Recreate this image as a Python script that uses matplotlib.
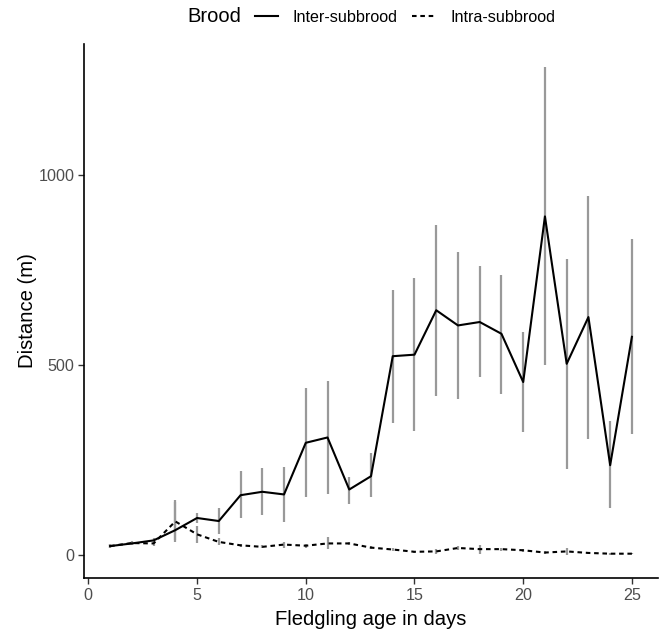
import matplotlib
matplotlib.use('Agg')
import matplotlib.pyplot as plt
from matplotlib.lines import Line2D

plt.rcParams['font.family'] = ['Liberation Sans', 'DejaVu Sans']

days = list(range(1, 26))

# inter-subbrood mean distance and error bar limits (m)
inter_mean = [24, 31, 39, 66, 98, 90, 158, 167, 160, 296, 310, 173, 208,
              524, 528, 645, 605, 614, 583, 456, 892, 504, 627, 237, 575]
inter_low = [18, 27, 33, 35, 84, 57, 97, 105, 88, 153, 162, 136, 152,
             348, 326, 418, 412, 468, 425, 324, 502, 228, 307, 125, 320]
inter_high = [30, 36, 45, 146, 111, 123, 221, 230, 231, 439, 458, 206, 269,
              697, 731, 870, 798, 761, 737, 589, 1285, 779, 945, 353, 833]

# intra-subbrood
intra_mean = [24, 32, 31, 89, 55, 35, 26, 22, 28, 25, 31, 31, 20,
              15, 9, 10, 19, 16, 16, 13, 7, 10, 6, 4, 4]
intra_low = [18, 27, 24, 40, 32, 26, 22, 18, 20, 20, 16, 27, 16,
             12, 6, 4, 14, 4, 12, 9, 4, 1, 3, 1, 2]
intra_high = [30, 37, 38, 140, 77, 45, 30, 26, 36, 30, 47, 35, 24,
              18, 12, 16, 24, 26, 20, 17, 10, 18, 9, 7, 6]

x_ticks = [0, 5, 10, 15, 20, 25]
y_ticks = [0, 500, 1000]

W, H = 665, 636
fig = plt.figure(figsize=(W / 100, H / 100), dpi=100)
ax = fig.add_axes([84 / W, 1 - 578 / H, (658 - 84) / W, (578 - 44) / H])

bar_col = '#999999'
ax.vlines(days, inter_low, inter_high, color=bar_col, lw=1.6, zorder=2)
ax.vlines(days, intra_low, intra_high, color=bar_col, lw=1.6, zorder=2)
ax.plot(days, inter_mean, color='black', lw=1.5, zorder=3)
ax.plot(days, intra_mean, color='black', lw=1.5, ls=(0, (2.2, 1.8)), zorder=3)

ax.set_xlim(-0.2, 26.2)
ax.set_ylim(-60, 1346)
ax.set_xticks(x_ticks)
ax.set_yticks(y_ticks)
for s in ['top', 'right']:
    ax.spines[s].set_visible(False)
for s in ['left', 'bottom']:
    ax.spines[s].set_linewidth(1.2)
ax.tick_params(axis='both', length=4, width=1.0, color='#333333',
               labelsize=11.6, labelcolor='#4D4D4D', pad=3)

ax.set_xlabel('Fledgling age in days', fontsize=14.6, labelpad=5)
ax.set_ylabel('Distance (m)', fontsize=14.6, labelpad=1)

# legend on top
fig.text(187 / W, 1 - 17 / H, 'Brood', fontsize=14.5, va='center', ha='left')
handles = [Line2D([], [], color='black', lw=1.5),
           Line2D([], [], color='black', lw=1.5, ls=(0, (2.2, 1.8)))]
fig.legend(handles, ['Inter-subbrood', 'Intra-subbrood'], ncol=2,
           loc='center left', bbox_to_anchor=(255 / W, 1 - 17 / H),
           frameon=False, fontsize=11.6, handlelength=1.45, handletextpad=0.9,
           columnspacing=0.9, borderpad=0, borderaxespad=0)

fig.savefig('out.png', dpi=100)
